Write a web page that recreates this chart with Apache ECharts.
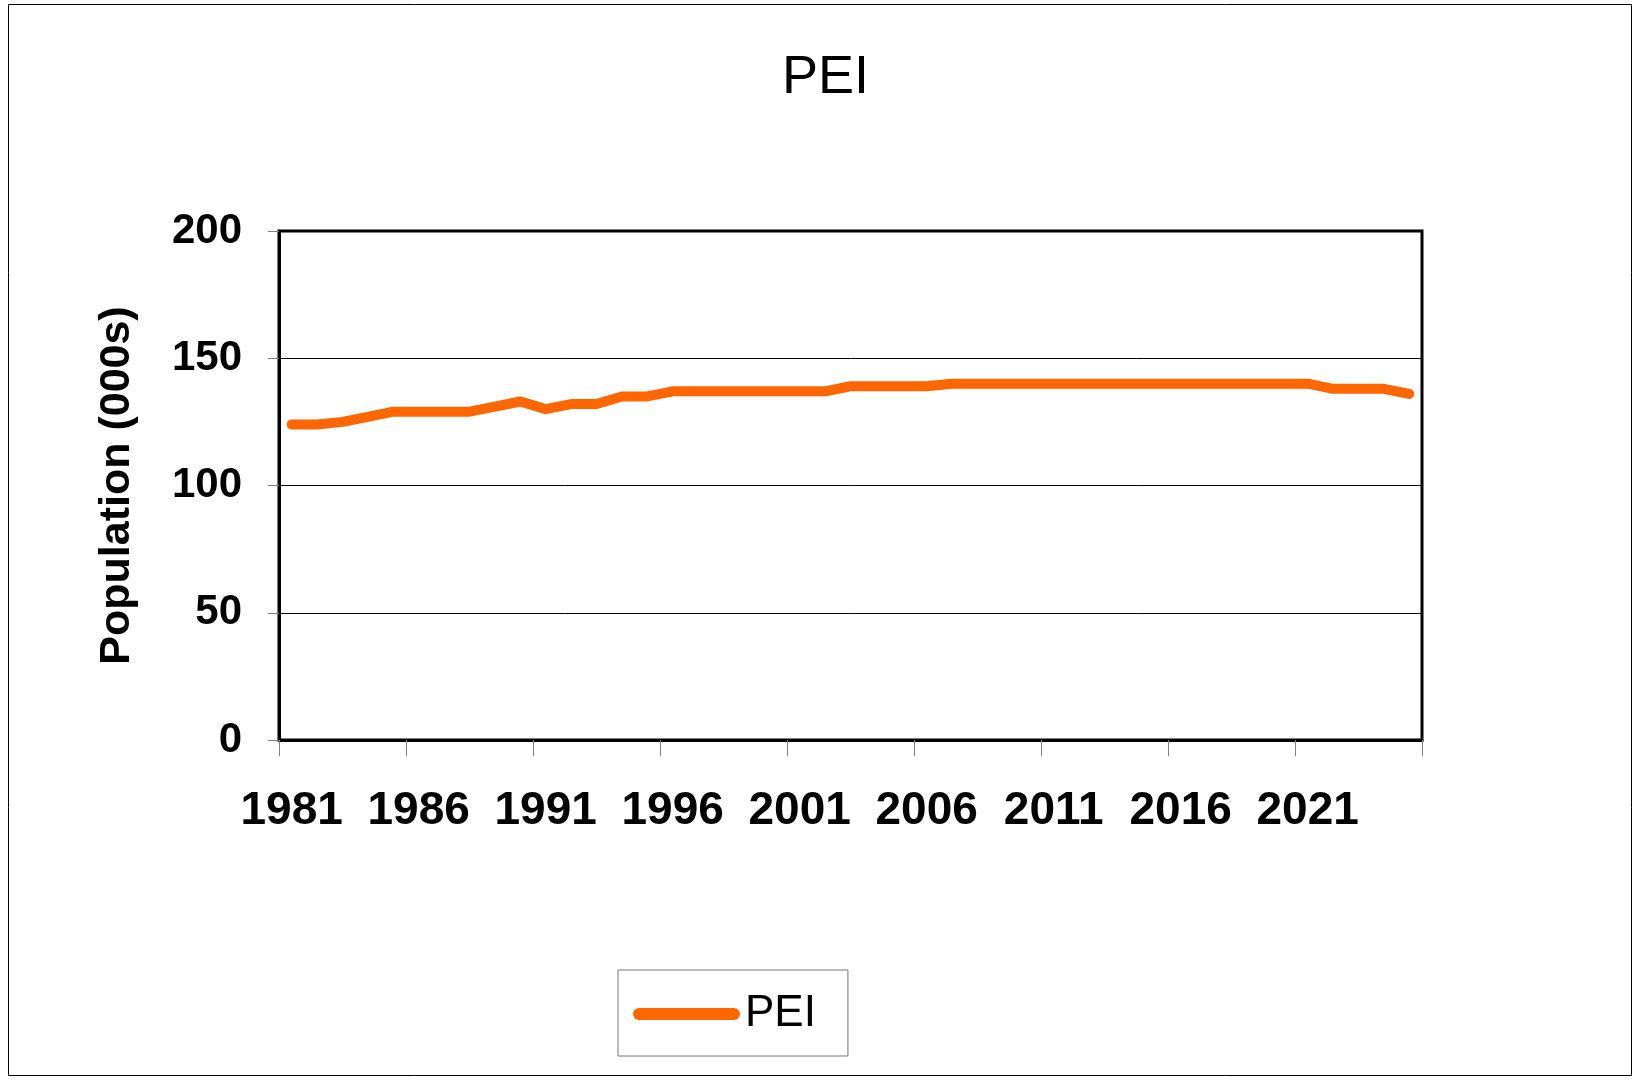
<!DOCTYPE html>
<html>
<head>
<meta charset="utf-8">
<script src="https://cdn.jsdelivr.net/npm/echarts@6/dist/echarts.min.js"></script>
<style>
  html, body { margin: 0; padding: 0; background: #fff; }
  #chart1 { width: 1634px; height: 1080px; }
</style>
</head>
<body>
<div id="chart1"></div>
<script>
// years 1981..2025, one per category
var years = ['1981','1982','1983','1984','1985','1986','1987','1988','1989','1990',
    '1991','1992','1993','1994','1995','1996','1997','1998','1999','2000',
    '2001','2002','2003','2004','2005','2006','2007','2008','2009','2010',
    '2011','2012','2013','2014','2015','2016','2017','2018','2019','2020',
    '2021','2022','2023','2024','2025'];
// PEI population, thousands
var pei = [124,124,125,127,129,129,129,129,131,133,
    130,132,132,135,135,137,137,137,137,137,
    137,137,139,139,139,139,140,140,140,140,
    140,140,140,140,140,140,140,140,140,140,
    140,138,138,138,136];
var yTicks = { min: 0, max: 200, step: 50 };

var myChart = echarts.init(document.getElementById('chart1'));
var font = 'Liberation Sans, Arial, sans-serif';
var option1 = {
    backgroundColor: '#fff',
    animation: false,
    title: {
        text: 'PEI',
        left: 777,
        top: 46,
        textStyle: { fontFamily: font, fontSize: 54, fontWeight: 'normal', color: '#000' }
    },
    graphic: [{
        type: 'rect',
        shape: { x: 8.5, y: 4.5, width: 1623, height: 1071 },
        style: { fill: 'none', stroke: '#000', lineWidth: 1 },
        silent: true
    }],
    grid: {
        left: 279, top: 231, right: 212, bottom: 340,
        show: true, borderColor: '#000', borderWidth: 3,
        containLabel: false
    },
    legend: {
        left: 618, top: 970,
        padding: [22, 32, 20, 15],
        borderColor: '#777', borderWidth: 1,
        itemWidth: 107, itemHeight: 12,
        data: [{ name: 'PEI', icon: 'path://M6,0 H101 A6,6 0 0 1 101,12 H6 A6,6 0 0 1 6,0 Z' }],
        textStyle: { fontFamily: font, fontSize: 44, color: '#000' }
    },
    xAxis: {
        type: 'category',
        data: years,
        boundaryGap: true,
        axisLine: { lineStyle: { color: '#000', width: 3 } },
        axisTick: { show: true, interval: 4, length: 16, lineStyle: { color: '#808080', width: 1 } },
        axisLabel: { interval: 4, margin: 48, fontFamily: font, fontSize: 46, fontWeight: 'bold', color: '#000' },
        splitLine: { show: false }
    },
    yAxis: {
        type: 'value',
        min: yTicks.min, max: yTicks.max, interval: yTicks.step,
        name: 'Population (000s)',
        nameLocation: 'middle',
        nameGap: 140,
        nameTextStyle: { fontFamily: font, fontSize: 43, fontWeight: 'bold', color: '#000' },
        axisLine: { show: true, lineStyle: { color: '#000', width: 3 } },
        axisTick: { show: true, length: 11, lineStyle: { color: '#808080', width: 1 } },
        axisLabel: { margin: 37, fontFamily: font, fontSize: 42, fontWeight: 'bold', color: '#000' },
        splitLine: { show: true, lineStyle: { color: '#000', width: 1 } }
    },
    series: [{
        name: 'PEI',
        type: 'line',
        data: pei,
        showSymbol: false,
        symbol: 'none',
        smooth: false,
        color: '#FF6600',
        lineStyle: { color: '#FF6600', width: 10, cap: 'round', join: 'round' }
    }]
};
myChart.setOption(option1);
</script>
</body>
</html>
